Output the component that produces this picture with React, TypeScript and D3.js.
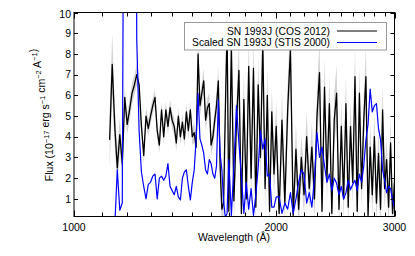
import * as d3 from 'd3';
import { useEffect, useRef } from 'react';

// wavelength grid (Angstrom)
const wave = [
  1130, 1140, 1150, 1160, 1170, 1180, 1190, 1200, 1210, 1220,
  1230, 1240, 1250, 1260, 1270, 1280, 1290, 1300, 1310, 1320,
  1330, 1340, 1350, 1360, 1370, 1380, 1390, 1400, 1410, 1420,
  1430, 1440, 1450, 1460, 1470, 1480, 1490, 1500, 1510, 1520,
  1530, 1540, 1550, 1560, 1570, 1580, 1590, 1600, 1610, 1620,
  1630, 1640, 1650, 1660, 1670, 1680, 1690, 1700,
  1715, 1730, 1745, 1760, 1775, 1790, 1805, 1820, 1835, 1850,
  1865, 1880, 1895, 1910, 1925, 1940, 1955, 1970, 1985, 2000,
  2020, 2040, 2060, 2080, 2100, 2120, 2140, 2160, 2180, 2200,
  2220, 2240, 2260, 2280, 2300, 2320, 2340, 2360, 2380, 2400,
  2420, 2440, 2460, 2480, 2500, 2520, 2540, 2560, 2580, 2600,
  2620, 2640, 2660, 2680, 2700, 2720, 2740, 2760, 2780, 2800,
  2820, 2840, 2860, 2880, 2900, 2920, 2940, 2960, 2980, 3000,
];

// SN 1993J (COS 2012)
const cosFlux = [
  3.85, 7.5, 4.5, 2.5, 4.1, 2.7, 5.9, 4.6, 5.3, 6.1,
  6.5, 7.0, 6.5, 4.5, 3.1, 5.0, 4.4, 5.0, 5.5, 5.9,
  4.3, 3.6, 5.3, 4.0, 5.3, 4.5, 5.4, 4.8, 4.5, 3.7,
  5.0, 4.0, 4.7, 3.9, 5.2, 4.3, 5.3, 4.0, 4.2, 3.5,
  8.0, 5.5, 6.1, 6.7, 4.8, 5.4, 5.6, 3.6, 4.0, 4.8,
  5.5, 6.7, 2.6, 0.5, 0.8, 5.3, 9.3, 0.4,
  8.4, 0.9, 4.6, 7.2, 0.3, 5.8, 1.0, 7.4, 2.0, 7.3,
  0.6, 6.5, 3.0, 8.6, 1.5, 6.0, 0.4, 5.2, 2.2, 4.5,
  0.3, 4.8, 0.8, 5.3, 8.2, 0.2, 3.4, 0.5, 3.0, 1.2,
  4.0, 1.5, 3.5, 1.0, 5.0, 7.1, 0.4, 6.4, 2.0, 5.6,
  0.3, 4.8, 6.1, 0.5, 4.5, 1.0, 5.6, 0.6, 4.5, 1.8,
  6.9, 0.4, 6.1, 1.5, 4.8, 6.9, 0.2, 3.5, 1.2, 4.0,
  0.8, 3.2, 0.5, 5.3, 1.5, 2.9, 0.6, 3.7, 0.3, 1.8,
];

const cosErr = [
  1.4, 1.5, 1.0, 0.9, 0.8, 0.7, 0.5, 0.5, 0.5, 0.5,
  0.5, 0.5, 0.5, 0.4, 0.4, 0.4, 0.4, 0.4, 0.4, 0.4,
  0.4, 0.4, 0.4, 0.4, 0.4, 0.4, 0.4, 0.4, 0.4, 0.4,
  0.4, 0.4, 0.4, 0.4, 0.4, 0.4, 0.4, 0.4, 0.5, 0.5,
  0.8, 0.5, 0.5, 0.6, 0.5, 0.5, 0.5, 0.5, 0.5, 0.5,
  0.6, 0.7, 0.8, 0.9, 0.9, 1.0, 1.2, 0.9,
  1.4, 1.0, 1.2, 1.4, 0.9, 1.3, 1.0, 1.4, 1.0, 1.4,
  0.9, 1.3, 1.1, 1.5, 1.0, 1.3, 0.9, 1.2, 1.0, 1.2,
  0.9, 1.3, 1.0, 1.3, 1.6, 0.9, 1.2, 0.9, 1.1, 1.0,
  1.2, 1.0, 1.2, 1.0, 1.3, 1.5, 0.9, 1.4, 1.0, 1.3,
  0.9, 1.3, 1.4, 0.9, 1.2, 1.0, 1.3, 0.9, 1.2, 1.0,
  1.4, 0.9, 1.3, 1.0, 1.2, 1.4, 0.9, 1.1, 1.0, 1.1,
  0.9, 1.1, 0.9, 1.2, 1.0, 1.0, 0.9, 1.1, 0.9, 1.0,
];

// Scaled SN 1993J (STIS 2000), no data below 1150
const stisFlux = [
  null, null, -0.3, 2.4, 0.45, 0.8, 30, 45, 60, 55,
  40, 8.7, 4.3, 2.3, 1.6, 1.0, 1.7, 1.8, 2.1, 2.2,
  1.0, 2.0, 2.1, 1.9, 2.1, 2.7, 1.6, 1.4, 1.2, 1.6,
  1.1, 0.95, 2.0, 2.3, 2.4, 1.6, 0.95, 1.8, 2.4, 3.9,
  6.1, 3.9, 3.6, 3.2, 2.4, 2.2, 2.9, 2.7, 2.2, 2.0,
  2.6, 5.8, 3.2, 2.4, 0.9, 0.1, 0.3, 2.9,
  0.2, 2.6, 5.5, 3.7, 2.1, 0.3, 1.8, 0.5, 1.5, 0.2,
  1.2, 2.5, 4.3, 3.4, 3.9, 2.1, 2.2, 0.6, 0.6, 1.1,
  1.1, 0.3, 0.8, 0.5, 1.3, 0.3, 1.0, 1.8, 2.4, 2.2,
  0.8, 1.3, 0.6, 2.0, 4.2, 3.0, 3.5, 2.6, 1.8, 2.2,
  1.4, 2.0, 1.75, 1.2, 1.6, 1.0, 1.3, 1.9, 1.45, 1.7,
  1.9, 1.4, 2.2, 1.8, 2.6, 3.85, 4.6, 6.3, 5.2, 5.5,
  5.6, 4.4, 3.85, 2.4, 1.9, 1.3, 1.6, 1.5, 0.95, 0.6,
];

const yTicks = [1, 2, 3, 4, 5, 6, 7, 8, 9, 10];
const xMajor = [1000, 2000, 3000];
const xMinor = [1100, 1200, 1300, 1400, 1500, 1600, 1700, 1800, 1900, 2100, 2200, 2300, 2400, 2500, 2600, 2700, 2800, 2900];
const legendLabels = ['SN 1993J (COS 2012)', 'Scaled SN 1993J (STIS 2000)'];
const legendColors = ['#000000', '#0000ff'];

export default function App() {
  const ref = useRef<SVGSVGElement>(null);

  useEffect(() => {
    const left = 74, right = 394.5, top = 12.5, bottom = 216.5;
    const svg = d3.select(ref.current);
    svg.selectAll('*').remove();

    const x = d3.scaleLog().domain([1000, 3000]).range([left, right]);
    const y = d3.scaleLinear().domain([0.15, 10]).range([bottom, top]);

    svg.append('rect').attr('width', 415).attr('height', 256).attr('fill', '#fff');

    svg.append('clipPath').attr('id', 'plot-clip')
      .append('rect')
      .attr('x', left).attr('y', top)
      .attr('width', right - left).attr('height', bottom - top);

    const plot = svg.append('g').attr('clip-path', 'url(#plot-clip)');

    const idx = d3.range(wave.length);

    // error band
    const band = d3.area<number>()
      .x(i => x(wave[i]))
      .y0(i => y(cosFlux[i] - cosErr[i]))
      .y1(i => y(cosFlux[i] + cosErr[i]));
    plot.append('path')
      .attr('d', band(idx))
      .attr('fill', '#c4c4c4')
      .attr('fill-opacity', 0.75);

    const cosLine = d3.line<number>()
      .x(i => x(wave[i]))
      .y(i => y(cosFlux[i]));
    plot.append('path')
      .attr('d', cosLine(idx))
      .attr('fill', 'none')
      .attr('stroke', '#000')
      .attr('stroke-width', 1.3)
      .attr('stroke-linejoin', 'round');

    const stisLine = d3.line<number>()
      .defined(i => stisFlux[i] != null)
      .x(i => x(wave[i]))
      .y(i => y(stisFlux[i] as number));
    plot.append('path')
      .attr('d', stisLine(idx))
      .attr('fill', 'none')
      .attr('stroke', '#0000ff')
      .attr('stroke-width', 1.2)
      .attr('stroke-linejoin', 'round');

    // frame
    svg.append('rect')
      .attr('x', left).attr('y', top)
      .attr('width', right - left).attr('height', bottom - top)
      .attr('fill', 'none').attr('stroke', '#000').attr('stroke-width', 1);

    const ticks = svg.append('g').attr('stroke', '#000').attr('stroke-width', 1);
    yTicks.forEach(t => {
      const yy = Math.round(y(t)) + 0.5;
      ticks.append('line').attr('x1', left).attr('x2', left + 4).attr('y1', yy).attr('y2', yy);
      ticks.append('line').attr('x1', right - 4).attr('x2', right).attr('y1', yy).attr('y2', yy);
    });
    xMajor.concat(xMinor).forEach(t => {
      const len = xMajor.includes(t) ? 6 : 4;
      const xx = Math.round(x(t)) + 0.5;
      ticks.append('line').attr('x1', xx).attr('x2', xx).attr('y1', bottom).attr('y2', bottom - len);
      ticks.append('line').attr('x1', xx).attr('x2', xx).attr('y1', top).attr('y2', top + len);
    });

    const font = "'Liberation Sans', Arial, Helvetica, sans-serif";

    svg.append('g').selectAll('text').data(yTicks).enter().append('text')
      .attr('x', 71)
      .attr('y', d => y(d) + (d === 10 ? 2 : 0))
      .attr('dy', '0.35em')
      .attr('text-anchor', 'end')
      .attr('font-family', font)
      .attr('font-size', 10.5)
      .text(d => d);

    svg.append('g').selectAll('text').data(xMajor).enter().append('text')
      .attr('x', d => x(d))
      .attr('y', 230.7)
      .attr('text-anchor', 'middle')
      .attr('font-family', font)
      .attr('font-size', 10.5)
      .text(d => d);

    svg.append('text')
      .attr('x', 234).attr('y', 241)
      .attr('text-anchor', 'middle')
      .attr('font-family', font)
      .attr('font-size', 10.5)
      .text('Wavelength (Å)');

    const ylab = svg.append('text')
      .attr('transform', 'translate(53,115) rotate(-90)')
      .attr('text-anchor', 'middle')
      .attr('font-family', font)
      .attr('font-size', 10.5);
    const parts: [string, string][] = [
      ['Flux (10', '−17'], [' erg s', '−1'], [' cm', '−2'], [' A', '−1'], [')', ''],
    ];
    parts.forEach(([base, sup]) => {
      ylab.append('tspan').attr('dy', 0).text(base);
      if (sup) {
        ylab.append('tspan').attr('dy', -4).attr('font-size', 7.5).text(sup);
        ylab.append('tspan').attr('dy', 4).text('');
      }
    });

    // legend
    const lg = svg.append('g');
    lg.append('rect')
      .attr('x', 184.5).attr('y', 22.5).attr('width', 202).attr('height', 27.5)
      .attr('fill', '#fff').attr('stroke', '#999').attr('stroke-width', 1);
    legendLabels.forEach((lab, i) => {
      const ly = 31 + i * 11.5;
      lg.append('text')
        .attr('x', 330).attr('y', ly + 3.6)
        .attr('text-anchor', 'end')
        .attr('font-family', font)
        .attr('font-size', 10.3)
        .text(lab);
      lg.append('line')
        .attr('x1', 337).attr('x2', 377).attr('y1', ly).attr('y2', ly)
        .attr('stroke', legendColors[i]).attr('stroke-width', 1.2);
    });
  }, []);

  return (
    <svg ref={ref} width={415} height={256}
      style={{ position: 'absolute', left: 0, top: 0 }} />
  );
}
